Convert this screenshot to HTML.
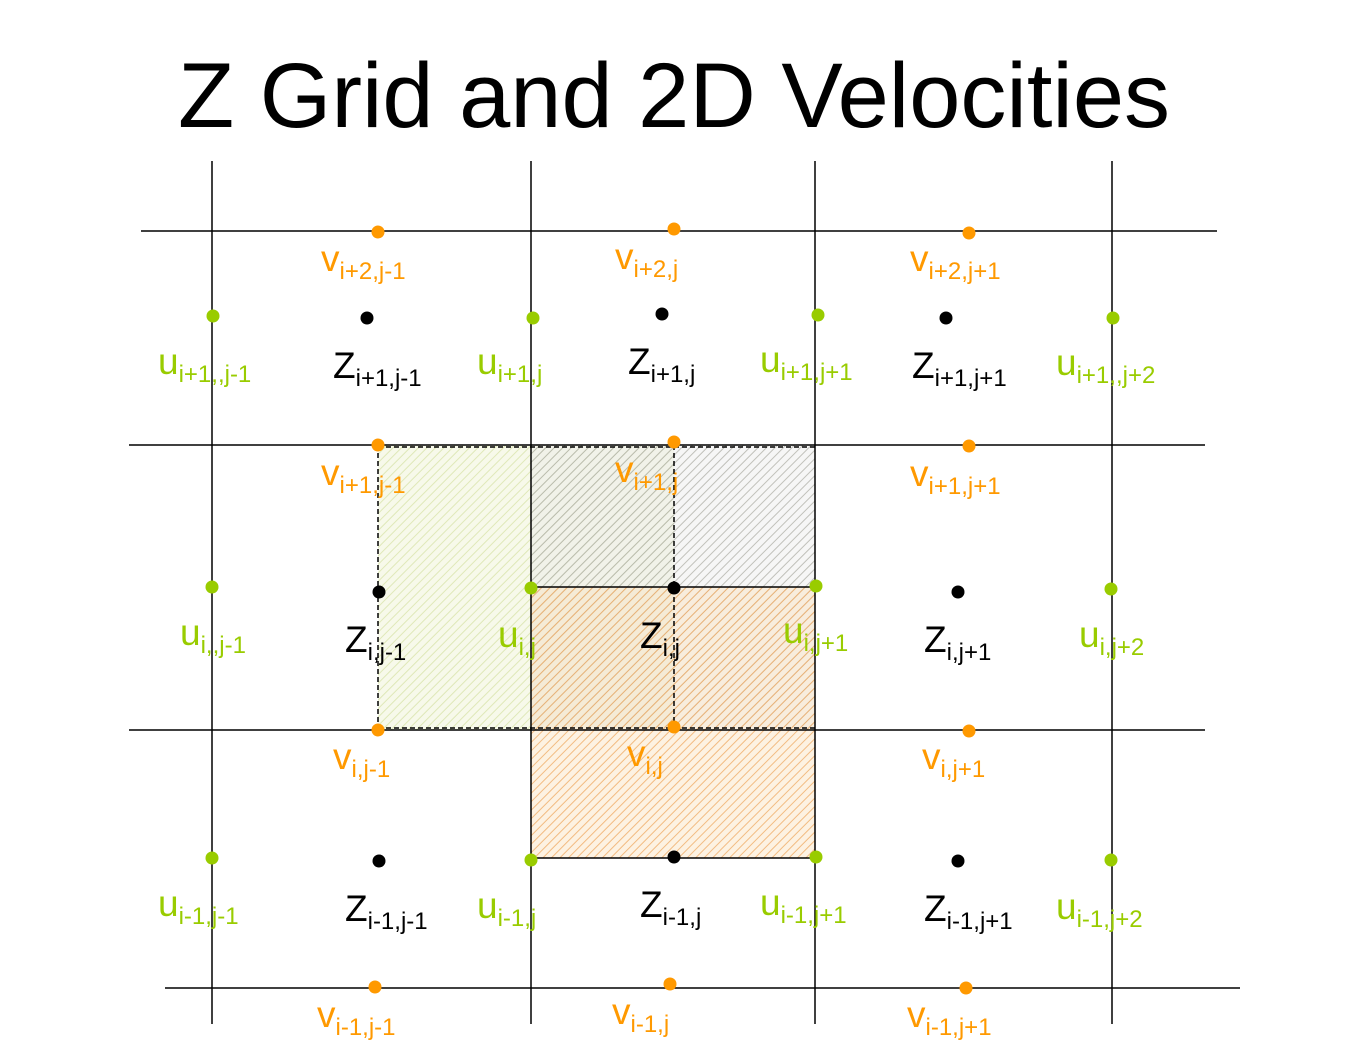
<!DOCTYPE html>
<html><head><meta charset="utf-8"><style>
html,body{margin:0;padding:0;background:#fff;}
svg{display:block;font-family:"Liberation Sans",Arial,sans-serif;}
</style></head><body>
<svg width="1350" height="1049" viewBox="0 0 1350 1049" xmlns="http://www.w3.org/2000/svg">
<defs>
<pattern id="pg" width="6" height="6" patternUnits="userSpaceOnUse" patternTransform="rotate(45)">
<rect width="6" height="6" fill="#f7f9ea"/><line x1="0" y1="0" x2="0" y2="6" stroke="#dfe8b8" stroke-width="2"/></pattern>
<pattern id="py" width="6" height="6" patternUnits="userSpaceOnUse" patternTransform="rotate(45)">
<rect width="6" height="6" fill="#e8e8e8" fill-opacity="0.4"/><line x1="0" y1="0" x2="0" y2="6" stroke="#a8a8a0" stroke-opacity="0.7" stroke-width="2"/></pattern>
<pattern id="po" width="6" height="6" patternUnits="userSpaceOnUse" patternTransform="rotate(45)">
<rect width="6" height="6" fill="#fbe2c0" fill-opacity="0.45"/><line x1="0" y1="0" x2="0" y2="6" stroke="#eea860" stroke-opacity="0.75" stroke-width="2"/></pattern>
</defs>
<text x="178" y="127" font-size="92" textLength="992" lengthAdjust="spacingAndGlyphs" fill="#000">Z Grid and 2D Velocities</text>

<rect x="378" y="445" width="296" height="285" fill="url(#pg)"/>
<rect x="531" y="445" width="284" height="285" fill="url(#py)"/>
<rect x="531" y="587" width="284" height="271" fill="url(#po)"/>

<g stroke="#000" stroke-width="1.5" fill="none">
<line x1="212" y1="161" x2="212" y2="1024"/>
<line x1="531" y1="161" x2="531" y2="1024"/>
<line x1="815" y1="161" x2="815" y2="1024"/>
<line x1="1112" y1="161" x2="1112" y2="1024"/>
<line x1="141" y1="231" x2="1217" y2="231"/>
<line x1="129" y1="445" x2="1205" y2="445"/>
<line x1="129" y1="730" x2="1205" y2="730"/>
<line x1="165" y1="988" x2="1240" y2="988"/>
<line x1="531" y1="587" x2="815" y2="587"/>
<line x1="531" y1="858" x2="815" y2="858"/>
</g>
<g stroke="#000" stroke-width="1.5" stroke-dasharray="5,3" fill="none">
<line x1="378" y1="445" x2="378" y2="730"/>
<line x1="674" y1="445" x2="674" y2="730"/>
<line x1="378" y1="447" x2="815" y2="447"/>
<line x1="378" y1="728" x2="815" y2="728"/>
</g>

<g fill="#ff9900">
<circle cx="378" cy="232" r="6.5"/><circle cx="674" cy="229" r="6.5"/><circle cx="969" cy="233" r="6.5"/>
<circle cx="378" cy="445" r="6.5"/><circle cx="674" cy="442" r="6.5"/><circle cx="969" cy="446" r="6.5"/>
<circle cx="378" cy="730" r="6.5"/><circle cx="674" cy="727" r="6.5"/><circle cx="969" cy="731" r="6.5"/>
<circle cx="375" cy="987" r="6.5"/><circle cx="670" cy="984" r="6.5"/><circle cx="966" cy="988" r="6.5"/>
</g>
<g fill="#99cc00">
<circle cx="213" cy="316" r="6.5"/><circle cx="533" cy="318" r="6.5"/><circle cx="818" cy="315" r="6.5"/><circle cx="1113" cy="318" r="6.5"/>
<circle cx="212" cy="587" r="6.5"/><circle cx="531" cy="588" r="6.5"/><circle cx="816" cy="586" r="6.5"/><circle cx="1111" cy="589" r="6.5"/>
<circle cx="212" cy="858" r="6.5"/><circle cx="531" cy="860" r="6.5"/><circle cx="816" cy="857" r="6.5"/><circle cx="1111" cy="860" r="6.5"/>
</g>
<g fill="#000">
<circle cx="367" cy="318" r="6.5"/><circle cx="662" cy="314" r="6.5"/><circle cx="946" cy="318" r="6.5"/>
<circle cx="379" cy="592" r="6.5"/><circle cx="674" cy="588" r="6.5"/><circle cx="958" cy="592" r="6.5"/>
<circle cx="379" cy="861" r="6.5"/><circle cx="674" cy="857" r="6.5"/><circle cx="958" cy="861" r="6.5"/>
</g>

<g font-size="37" fill="#ff9900">
<text x="321" y="271">v<tspan font-size="24" dy="8">i+2,j-1</tspan></text>
<text x="615" y="269">v<tspan font-size="24" dy="8">i+2,j</tspan></text>
<text x="910" y="271">v<tspan font-size="24" dy="8">i+2,j+1</tspan></text>
<text x="321" y="485">v<tspan font-size="24" dy="8">i+1,j-1</tspan></text>
<text x="615" y="482">v<tspan font-size="24" dy="8">i+1,j</tspan></text>
<text x="910" y="486">v<tspan font-size="24" dy="8">i+1,j+1</tspan></text>
<text x="333" y="769">v<tspan font-size="24" dy="8">i,j-1</tspan></text>
<text x="627" y="766">v<tspan font-size="24" dy="8">i,j</tspan></text>
<text x="922" y="769">v<tspan font-size="24" dy="8">i,j+1</tspan></text>
<text x="317" y="1027">v<tspan font-size="24" dy="8">i-1,j-1</tspan></text>
<text x="612" y="1024">v<tspan font-size="24" dy="8">i-1,j</tspan></text>
<text x="907" y="1027">v<tspan font-size="24" dy="8">i-1,j+1</tspan></text>
</g>
<g font-size="37" fill="#99cc00">
<text x="158" y="374">u<tspan font-size="24" dy="8">i+1,,j-1</tspan></text>
<text x="477" y="374">u<tspan font-size="24" dy="8">i+1,j</tspan></text>
<text x="760" y="372">u<tspan font-size="24" dy="8">i+1,j+1</tspan></text>
<text x="1056" y="375">u<tspan font-size="24" dy="8">i+1,,j+2</tspan></text>
<text x="180" y="645">u<tspan font-size="24" dy="8">i,,j-1</tspan></text>
<text x="498" y="647">u<tspan font-size="24" dy="8">i,j</tspan></text>
<text x="783" y="643">u<tspan font-size="24" dy="8">i,j+1</tspan></text>
<text x="1079" y="647">u<tspan font-size="24" dy="8">i,j+2</tspan></text>
<text x="158" y="916">u<tspan font-size="24" dy="8">i-1,j-1</tspan></text>
<text x="477" y="918">u<tspan font-size="24" dy="8">i-1,j</tspan></text>
<text x="760" y="915">u<tspan font-size="24" dy="8">i-1,j+1</tspan></text>
<text x="1056" y="919">u<tspan font-size="24" dy="8">i-1,j+2</tspan></text>
</g>
<g font-size="37" fill="#000">
<text x="333" y="378">Z<tspan font-size="24" dy="8">i+1,j-1</tspan></text>
<text x="628" y="374">Z<tspan font-size="24" dy="8">i+1,j</tspan></text>
<text x="912" y="378">Z<tspan font-size="24" dy="8">i+1,j+1</tspan></text>
<text x="345" y="652">Z<tspan font-size="24" dy="8">i,j-1</tspan></text>
<text x="640" y="648">Z<tspan font-size="24" dy="8">i,j</tspan></text>
<text x="924" y="652">Z<tspan font-size="24" dy="8">i,j+1</tspan></text>
<text x="345" y="921">Z<tspan font-size="24" dy="8">i-1,j-1</tspan></text>
<text x="640" y="917">Z<tspan font-size="24" dy="8">i-1,j</tspan></text>
<text x="924" y="921">Z<tspan font-size="24" dy="8">i-1,j+1</tspan></text>
</g>
</svg>
</body></html>
